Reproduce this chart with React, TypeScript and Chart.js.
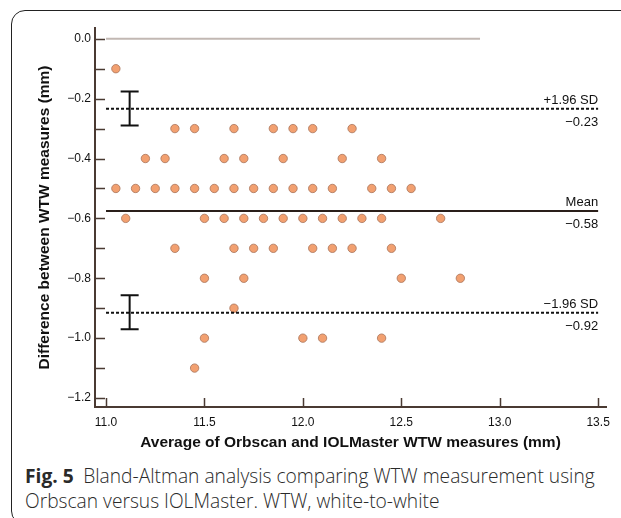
import React, { useEffect, useRef } from "react";
import { Chart, registerables } from "chart.js";

Chart.register(...registerables);

// Average of Orbscan and IOLMaster WTW (mm)
const avgMeasures = [
  11.05,
  11.35, 11.45, 11.65, 11.85, 11.95, 12.05, 12.25,
  11.2, 11.3, 11.6, 11.7, 11.9, 12.2, 12.4,
  11.05, 11.15, 11.25, 11.35, 11.45, 11.55, 11.65, 11.75, 11.85, 11.95, 12.05, 12.15, 12.35, 12.45, 12.55,
  11.1, 11.5, 11.6, 11.7, 11.8, 11.9, 12.0, 12.1, 12.2, 12.3, 12.4, 12.7,
  11.35, 11.65, 11.75, 11.85, 12.05, 12.15, 12.25, 12.45,
  11.5, 11.7, 12.5, 12.8,
  11.65,
  11.5, 12.0, 12.1, 12.4,
  11.45,
];
// Difference between WTW measures (mm)
const diffMeasures = [
  -0.1,
  -0.3, -0.3, -0.3, -0.3, -0.3, -0.3, -0.3,
  -0.4, -0.4, -0.4, -0.4, -0.4, -0.4, -0.4,
  -0.5, -0.5, -0.5, -0.5, -0.5, -0.5, -0.5, -0.5, -0.5, -0.5, -0.5, -0.5, -0.5, -0.5, -0.5,
  -0.6, -0.6, -0.6, -0.6, -0.6, -0.6, -0.6, -0.6, -0.6, -0.6, -0.6, -0.6,
  -0.7, -0.7, -0.7, -0.7, -0.7, -0.7, -0.7, -0.7,
  -0.8, -0.8, -0.8, -0.8,
  -0.9,
  -1.0, -1.0, -1.0, -1.0,
  -1.1,
];

const meanDiff = -0.575;
const upperLoA = -0.234;
const lowerLoA = -0.915;
const zeroLineX = [11.0, 12.9];
const refLineX = [11.0, 13.5];

const ciX = 11.12;
const upperCI = [-0.176, -0.29];
const lowerCI = [-0.857, -0.97];

const refLabels = [
  { y: upperLoA, name: "+1.96 SD", value: "−0.23" },
  { y: meanDiff, name: "Mean", value: "−0.58" },
  { y: lowerLoA, name: "−1.96 SD", value: "−0.92" },
];

const xTickValues = [11.0, 11.5, 12.0, 12.5, 13.0, 13.5];
const yTickValues = [0, -0.1, -0.2, -0.3, -0.4, -0.5, -0.6, -0.7, -0.8, -0.9, -1.0, -1.1, -1.2];
const yLabelled = [0, -0.2, -0.4, -0.6, -0.8, -1.0, -1.2];

const AXIS = "#4a3a32";
const FONT = "'Liberation Sans', Arial, sans-serif";

const fmtY = (v: number) => {
  const r = Math.round(v * 10) / 10;
  if (!yLabelled.some((l) => Math.abs(l - r) < 1e-6)) return "";
  if (Math.abs(r) < 1e-6) return "0.0";
  return (r < 0 ? "−" : "") + Math.abs(r).toFixed(1);
};

const overlayPlugin = {
  id: "overlay",
  afterDatasetsDraw(chart: any) {
    const { ctx, scales } = chart;
    const xs = scales.x;
    const ys = scales.y;
    ctx.save();
    // confidence interval bars
    ctx.strokeStyle = "#111";
    ctx.lineWidth = 2;
    const cx = xs.getPixelForValue(ciX);
    [upperCI, lowerCI].forEach(([a, b]) => {
      const ya = ys.getPixelForValue(a);
      const yb = ys.getPixelForValue(b);
      ctx.beginPath();
      ctx.moveTo(cx, ya);
      ctx.lineTo(cx, yb);
      ctx.moveTo(cx - 9, ya);
      ctx.lineTo(cx + 9, ya);
      ctx.moveTo(cx - 9, yb);
      ctx.lineTo(cx + 9, yb);
      ctx.stroke();
    });
    // reference labels
    ctx.fillStyle = "#111";
    ctx.font = `13px ${FONT}`;
    ctx.textAlign = "right";
    const rx = xs.getPixelForValue(refLineX[1]);
    refLabels.forEach((l) => {
      const py = ys.getPixelForValue(l.y);
      ctx.textBaseline = "bottom";
      ctx.fillText(l.name, rx, py - 2);
      ctx.textBaseline = "top";
      ctx.fillText(l.value, rx, py + 7);
    });
    ctx.restore();
  },
  afterDraw(chart: any) {
    const { ctx, chartArea, scales } = chart;
    const xs = scales.x;
    const ys = scales.y;
    ctx.save();
    ctx.strokeStyle = AXIS;
    ctx.lineWidth = 2;
    ctx.beginPath();
    ctx.moveTo(chartArea.left, chartArea.top);
    ctx.lineTo(chartArea.left, chartArea.bottom);
    ctx.lineTo(chartArea.right, chartArea.bottom);
    ctx.stroke();
    ctx.lineWidth = 1.5;
    ctx.beginPath();
    xTickValues.forEach((v) => {
      const px = Math.round(xs.getPixelForValue(v)) + 0.5;
      ctx.moveTo(px, chartArea.bottom);
      ctx.lineTo(px, chartArea.bottom - 9);
    });
    yTickValues.forEach((v) => {
      const py = Math.round(ys.getPixelForValue(v)) + 0.5;
      ctx.moveTo(chartArea.left, py);
      ctx.lineTo(chartArea.left + 10, py);
    });
    ctx.stroke();
    ctx.restore();
  },
};

export default function App() {
  const canvasRef = useRef<HTMLCanvasElement | null>(null);

  useEffect(() => {
    if (!canvasRef.current) return;
    const points = avgMeasures.map((x, i) => ({ x, y: diffMeasures[i] }));
    const chart = new Chart(canvasRef.current, {
      type: "scatter",
      data: {
        datasets: [
          {
            data: zeroLineX.map((x) => ({ x, y: 0 })),
            showLine: true,
            borderColor: "#c2b8b3",
            borderWidth: 2,
            pointRadius: 0,
          },
          {
            data: refLineX.map((x) => ({ x, y: meanDiff })),
            showLine: true,
            borderColor: "#2a1f1a",
            borderWidth: 2,
            pointRadius: 0,
          },
          {
            data: refLineX.map((x) => ({ x, y: upperLoA })),
            showLine: true,
            borderColor: "#111",
            borderWidth: 2,
            borderDash: [3, 2],
            pointRadius: 0,
          },
          {
            data: refLineX.map((x) => ({ x, y: lowerLoA })),
            showLine: true,
            borderColor: "#111",
            borderWidth: 2,
            borderDash: [3, 2],
            pointRadius: 0,
          },
          {
            data: points,
            pointRadius: 4.2,
            pointBackgroundColor: "#f2a070",
            pointBorderColor: "#a8735a",
            pointBorderWidth: 0.8,
            showLine: false,
          },
        ],
      },
      options: {
        responsive: false,
        animation: false,
        events: [],
        layout: { padding: { left: 0, top: 28, right: 15, bottom: 0 } },
        plugins: {
          legend: { display: false },
          tooltip: { enabled: false },
        },
        scales: {
          x: {
            type: "linear",
            min: 10.944,
            max: 13.54,
            afterBuildTicks: (s: any) => {
              s.ticks = xTickValues.map((v) => ({ value: v }));
            },
            afterFit: (s: any) => {
              s.height = 48;
            },
            grid: { display: false, drawTicks: false },
            border: { display: true, color: AXIS, width: 2 },
            ticks: {
              autoSkip: false,
              maxRotation: 0,
              padding: 8,
              color: "#111",
              font: { family: FONT, size: 12 },
              callback: (v: any) => Number(v).toFixed(1),
            },
            title: {
              display: true,
              text: "Average of Orbscan and IOLMaster WTW measures (mm)",
              color: "#111",
              font: { family: FONT, size: 15.5, weight: "bold" },
              padding: { top: 0, bottom: 3 },
            },
          },
          y: {
            type: "linear",
            min: -1.23,
            max: 0.036,
            afterBuildTicks: (s: any) => {
              s.ticks = yTickValues.map((v) => ({ value: v }));
            },
            afterFit: (s: any) => {
              s.width = 95;
            },
            grid: { display: false, drawTicks: false },
            border: { display: true, color: AXIS, width: 2 },
            ticks: {
              autoSkip: false,
              padding: 4,
              color: "#111",
              font: { family: FONT, size: 12 },
              callback: (v: any) => fmtY(Number(v)),
            },
            title: {
              display: true,
              text: "Difference between WTW measures (mm)",
              color: "#111",
              font: { family: FONT, size: 15.5, weight: "bold" },
              padding: { top: 35, bottom: 0 },
            },
          },
        },
      },
      plugins: [overlayPlugin],
    } as any);
    return () => chart.destroy();
  }, []);

  return (
    <div style={{ position: "absolute", left: 0, top: 0, width: 621, height: 518, overflow: "hidden", background: "#fff" }}>
      <div
        style={{
          position: "absolute",
          left: 11,
          top: 10,
          width: 700,
          height: 515,
          border: "1.5px solid #222",
          borderTopLeftRadius: 14,
          borderBottomLeftRadius: 14,
          boxSizing: "border-box",
        }}
      />
      <canvas ref={canvasRef} width={621} height={455} style={{ position: "absolute", left: 0, top: 0, width: 621, height: 455 }} />
      <div
        style={{
          position: "absolute",
          left: 25,
          top: 463,
          width: 596,
          fontFamily: "'Open Sans', sans-serif",
          fontWeight: 300,
          fontSize: 19.2,
          lineHeight: "25px",
          color: "#2a2a2a",
          whiteSpace: "nowrap",
        }}
      >
        <span style={{ fontWeight: 700 }}>Fig. 5</span>
        {"\u2002Bland-Altman analysis comparing WTW measurement using"}
        <br />
        Orbscan versus IOLMaster. WTW, white-to-white
      </div>
    </div>
  );
}
